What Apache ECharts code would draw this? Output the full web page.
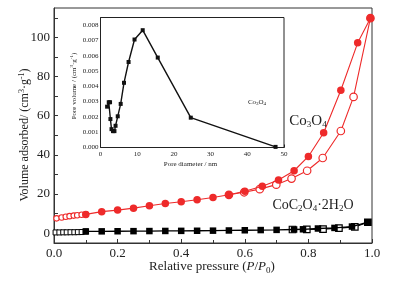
<!DOCTYPE html>
<html>
<head>
<meta charset="utf-8">
<script src="https://cdn.jsdelivr.net/npm/echarts@6/dist/echarts.min.js"></script>
<style>
html,body{margin:0;padding:0;background:#fff;}
#c{width:396px;height:283px;}
</style>
</head>
<body>
<div id="c"></div>
<script>
// Co3O4 adsorption (filled circles)
var co3o4AdsP = [0.1,0.15,0.2,0.25,0.3,0.35,0.4,0.45,0.5,0.55,0.6,0.655,0.706,0.755,0.8,0.848,0.902,0.955,0.995];
var co3o4AdsV = [9.6,11.0,11.8,12.8,14.0,15.2,16.1,17.1,18.2,19.6,21.4,24.0,27.2,31.9,39.2,51.3,73.0,97.2,109.8];
// Co3O4 desorption (hollow circles)
var co3o4DesP = [0.995,0.942,0.902,0.845,0.796,0.747,0.699,0.647,0.598,0.55];
var co3o4DesV = [109.8,69.6,52.2,38.4,31.9,27.9,24.8,22.5,20.9,19.6];
// Co3O4 low pressure (hollow circles)
var co3o4LowP = [0.008,0.024,0.037,0.049,0.062,0.073,0.087,0.1];
var co3o4LowV = [7.6,8.0,8.4,8.7,9.0,9.2,9.4,9.6];
// CoC2O4·2H2O adsorption (filled squares)
var cocAdsP = [0.1,0.15,0.2,0.25,0.3,0.35,0.4,0.45,0.5,0.55,0.6,0.65,0.7,0.755,0.783,0.83,0.882,0.937,0.987];
var cocAdsV = [0.9,0.95,1.0,1.05,1.1,1.15,1.2,1.25,1.3,1.4,1.5,1.6,1.7,1.9,2.0,2.4,2.7,3.4,5.6];
// CoC2O4·2H2O desorption (hollow squares)
var cocDesP = [0.987,0.946,0.896,0.846,0.795,0.75];
var cocDesV = [5.6,3.2,2.6,2.1,2.0,1.9];
// CoC2O4·2H2O low pressure (hollow squares)
var cocLowP = [0.005,0.017,0.029,0.04,0.052,0.064,0.075,0.087,0.1];
var cocLowV = [0.4,0.4,0.45,0.45,0.5,0.5,0.55,0.6,0.9];
// Inset: pore size distribution
var poreD = [1.8,2.25,2.6,2.7,3.0,3.4,3.8,4.1,4.7,5.5,6.4,7.65,9.27,11.5,15.6,24.6,47.7];
var poreV = [0.00267,0.00296,0.00296,0.00186,0.0012,0.00107,0.00107,0.00142,0.00204,0.00285,0.00423,0.00559,0.00706,0.00767,0.00588,0.00195,0.00004];
// Tick labels
var mainXTicks = [0,0.2,0.4,0.6,0.8,1.0];
var mainYLabels = [0,20,40,60,80,100];
var mainYTicks = [0,10,20,30,40,50,60,70,80,90,100,110];
var insetYTicks = [0,0.001,0.002,0.003,0.004,0.005,0.006,0.007,0.008];

function pairs(xs, ys){ return xs.map(function(x,i){ return [x, ys[i]]; }); }

var RED = '#ee2a2a';
var AX = '#333';
var SERIF = 'Liberation Serif, Times New Roman, serif';

var chart = echarts.init(document.getElementById('c'), null, {renderer:'canvas'});
var option = {
  animation: false,
  backgroundColor: '#fff',
  textStyle: {fontFamily: SERIF},
  grid: [
    {left: 54, right: 24, top: 8, bottom: 40, show: true, borderColor: AX, borderWidth: 1, backgroundColor: 'transparent', z: 0},
    {left: 100.5, right: 112, top: 17.5, bottom: 135.5, show: true, borderColor: '#222', borderWidth: 1, backgroundColor: '#fff', z: 5}
  ],
  xAxis: [
    {type: 'value', gridIndex: 0, min: 0, max: 1, interval: 0.2,
     axisLine: {show: true, onZero: false, lineStyle: {color: AX, width: 1}},
     axisTick: {show: true, inside: true, length: 4, lineStyle: {color: AX}},
     minorTick: {show: true, splitNumber: 2, length: 3, lineStyle: {color: AX}},
     splitLine: {show: false},
     axisLabel: {margin: 4, color: '#222', fontSize: 13, fontFamily: SERIF, formatter: function(v){ return v.toFixed(1); }}
    },
    {type: 'value', gridIndex: 1, min: 0, max: 50, interval: 10,
     axisLine: {show: true, onZero: false, lineStyle: {color: '#222', width: 1}},
     axisTick: {show: true, inside: true, length: 3, lineStyle: {color: '#222'}},
     minorTick: {show: true, splitNumber: 2, length: 2, lineStyle: {color: '#222'}},
     splitLine: {show: false},
     axisLabel: {margin: 3, color: '#222', fontSize: 7, fontFamily: SERIF}
    }
  ],
  yAxis: [
    {type: 'value', gridIndex: 0, min: -5, max: 115,
     axisLine: {show: true, onZero: false, lineStyle: {color: AX, width: 1}},
     axisTick: {show: true, inside: true, length: 4, customValues: mainYTicks, lineStyle: {color: AX}},
     splitLine: {show: false},
     axisLabel: {margin: 4, color: '#222', fontSize: 13, fontFamily: SERIF, customValues: mainYLabels}
    },
    {type: 'value', gridIndex: 1, min: 0, max: 0.0085,
     axisLine: {show: true, onZero: false, lineStyle: {color: '#222', width: 1}},
     axisTick: {show: true, inside: true, length: 3, customValues: insetYTicks, lineStyle: {color: '#222'}},
     splitLine: {show: false},
     axisLabel: {margin: 2, color: '#222', fontSize: 7, fontFamily: SERIF, customValues: insetYTicks,
       formatter: function(v){ return v.toFixed(3); }}
    }
  ],
  series: [
    {type: 'line', xAxisIndex: 0, yAxisIndex: 0, data: pairs(cocLowP, cocLowV), symbol: 'rect', symbolSize: 5,
     lineStyle: {color: '#000', width: 1}, itemStyle: {color: '#fff', borderColor: '#000', borderWidth: 1}, z: 2},
    {type: 'line', xAxisIndex: 0, yAxisIndex: 0, data: pairs(cocDesP, cocDesV), symbol: 'rect', symbolSize: 6.5,
     lineStyle: {color: '#000', width: 1.2}, itemStyle: {color: '#fff', borderColor: '#000', borderWidth: 1.2}, z: 2},
    {type: 'line', xAxisIndex: 0, yAxisIndex: 0, data: pairs(cocAdsP, cocAdsV), symbol: 'rect', symbolSize: 6.5,
     lineStyle: {color: '#000', width: 1.3}, itemStyle: {color: '#000'}, z: 3},
    {type: 'line', xAxisIndex: 0, yAxisIndex: 0, data: pairs(co3o4LowP, co3o4LowV), symbol: 'circle', symbolSize: 5.5,
     lineStyle: {color: RED, width: 1}, itemStyle: {color: '#fff', borderColor: RED, borderWidth: 1.1}, z: 2},
    {type: 'line', xAxisIndex: 0, yAxisIndex: 0, data: pairs(co3o4DesP, co3o4DesV), symbol: 'circle', symbolSize: 7.5,
     lineStyle: {color: RED, width: 1.1}, itemStyle: {color: '#fff', borderColor: RED, borderWidth: 1.2}, z: 2},
    {type: 'line', xAxisIndex: 0, yAxisIndex: 0, data: pairs(co3o4AdsP, co3o4AdsV), symbol: 'circle', symbolSize: 7.5,
     lineStyle: {color: RED, width: 1.1}, itemStyle: {color: RED}, z: 3},
    {type: 'line', xAxisIndex: 1, yAxisIndex: 1, data: pairs(poreD, poreV), symbol: 'rect', symbolSize: 4,
     lineStyle: {color: '#111', width: 1.4}, itemStyle: {color: '#111'}, z: 6}
  ],
  graphic: [
    {type: 'text', x: 25, y: 135, rotation: Math.PI/2, z: 10,
     style: {text: 'Volume adsorbed/ (cm{sup|3}·g{sup|-1})', font: '12px ' + SERIF, fill: '#222',
       align: 'center', verticalAlign: 'middle',
       rich: {sup: {fontSize: 8, fontFamily: SERIF, fill: '#222', padding: [0,0,6,0]}}}},
    {type: 'text', x: 212, y: 267, z: 10,
     style: {text: 'Relative pressure ({i|P}/{i|P}{sub|0})', font: '13px ' + SERIF, fill: '#222',
       align: 'center', verticalAlign: 'middle',
       rich: {i: {fontSize: 13, fontStyle: 'italic', fontFamily: SERIF, fill: '#222'},
              sub: {fontSize: 9, fontFamily: SERIF, fill: '#222', padding: [7,0,0,0]}}}},
    {type: 'text', x: 308, y: 121, z: 10,
     style: {text: 'Co{sub|3}O{sub|4}', font: '15px ' + SERIF, fill: '#222',
       align: 'center', verticalAlign: 'middle',
       rich: {sub: {fontSize: 9, fontFamily: SERIF, fill: '#222', padding: [8,0,0,0]}}}},
    {type: 'text', x: 313, y: 205, z: 10,
     style: {text: 'CoC{sub|2}O{sub|4}·2H{sub|2}O', font: '14px ' + SERIF, fill: '#222',
       align: 'center', verticalAlign: 'middle',
       rich: {sub: {fontSize: 9, fontFamily: SERIF, fill: '#222', padding: [7,0,0,0]}}}},
    {type: 'text', x: 74, y: 86, rotation: Math.PI/2, z: 10,
     style: {text: 'Pore volume / (cm{sup|3}·g{sup|-1})', font: '7px ' + SERIF, fill: '#222',
       align: 'center', verticalAlign: 'middle',
       rich: {sup: {fontSize: 5, fontFamily: SERIF, fill: '#222', padding: [0,0,4,0]}}}},
    {type: 'text', x: 190.5, y: 164, z: 10,
     style: {text: 'Pore diameter / nm', font: '7px ' + SERIF, fill: '#222', align: 'center', verticalAlign: 'middle'}},
    {type: 'text', x: 257, y: 102, z: 10,
     style: {text: 'Co{sub|3}O{sub|4}', font: '7px ' + SERIF, fill: '#222', align: 'center', verticalAlign: 'middle',
       rich: {sub: {fontSize: 5, fontFamily: SERIF, fill: '#222', padding: [4,0,0,0]}}}}
  ]
};
chart.setOption(option);
</script>
</body>
</html>
